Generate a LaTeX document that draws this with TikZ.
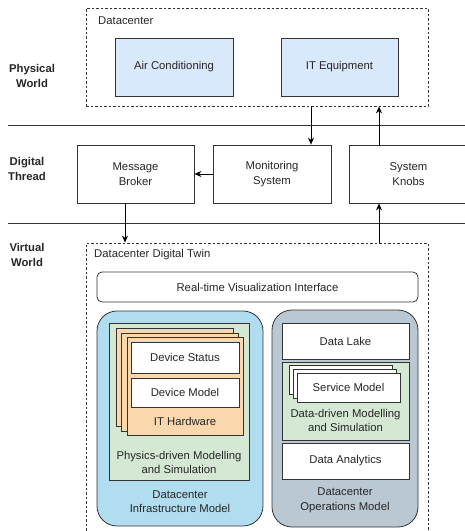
\documentclass[tikz,border=0pt]{standalone}
\usepackage{fontspec}
\setmainfont{Liberation Sans}
\usetikzlibrary{arrows.meta}
\definecolor{bluefill}{HTML}{DAE8FC}
\definecolor{infra}{HTML}{B1DDF0}
\definecolor{opsfill}{HTML}{BAC8D3}
\definecolor{greenfill}{HTML}{D5E8D4}
\definecolor{orangefill}{HTML}{FAD7AC}
\definecolor{edge}{HTML}{333333}
\begin{document}
\begin{tikzpicture}[x=1pt,y=-1pt,
  every node/.style={font=\fontsize{11.3}{14.5}\selectfont, align=center, inner sep=0pt, text=black!85},
  box/.style={draw=edge, line width=0.8pt, fill=white},
  bluebox/.style={box, fill=bluefill},
  dashbox/.style={draw=edge, line width=0.8pt, dash pattern=on 2.5pt off 2pt},
  rbox/.style={box, rounded corners=5pt},
  bigbox/.style={draw=edge, line width=0.8pt, rounded corners=20pt},
  greenbox/.style={box, fill=greenfill},
  card/.style={box, fill=orangefill},
  side/.style={font=\bfseries\fontsize{11.3}{14.5}\selectfont},
  sep/.style={draw=edge, line width=0.8pt},
  arr/.style={draw=black, line width=0.8pt, -{Stealth[length=7pt,width=6pt]}}
]
\useasboundingbox (0,0) rectangle (465,531);
% separators
\coordinate (l1a) at (8,125); \coordinate (l1b) at (470,125);
\coordinate (l2a) at (8,223); \coordinate (l2b) at (470,223);
\draw[sep] (l1a) -- (l1b);
\draw[sep] (l2a) -- (l2b);
% side labels
\node[side] (pw) at (32,76) {Physical\\World};
\node[side] (dth) at (27,169) {Digital\\Thread};
\node[side] (vw) at (27,255) {Virtual\\World};
% physical world
\node[dashbox, minimum width=342pt, minimum height=98pt] (dc) at (257,57) {};
\node[anchor=west] (dcl) at (98,21) {Datacenter};
\node[bluebox, minimum width=118pt, minimum height=58pt] (ac) at (174,67) {Air Conditioning};
\node[bluebox, minimum width=117pt, minimum height=58pt] (ite) at (339.5,67) {IT Equipment};
% digital thread
\node[box, minimum width=117pt, minimum height=58pt] (mb) at (135.5,174) {Message\\Broker};
\node[box, minimum width=118pt, minimum height=58pt] (mon) at (272,174) {Monitoring\\System};
\node[box, minimum width=119pt, minimum height=58pt] (kn) at (408.5,174) {System\\Knobs};
% virtual world
\node[dashbox, minimum width=342pt, minimum height=300pt] (dt) at (257,393) {};
\node[anchor=west] (dtl) at (94,255) {Datacenter Digital Twin};
\node[rbox, minimum width=321pt, minimum height=30pt] (rt) at (257.5,287) {Real-time Visualization Interface};
% infrastructure model
\node[bigbox, fill=infra, minimum width=166pt, minimum height=215pt] (inf) at (180,418.5) {};
\node[greenbox, minimum width=140pt, minimum height=157pt] (g1) at (179,401.5) {};
\node[card, minimum width=117pt, minimum height=98pt] (c1) at (174.5,377) {};
\node[card, minimum width=117pt, minimum height=98pt] (c2) at (179.5,382) {};
\node[card, minimum width=116pt, minimum height=98pt] (c3) at (185,386) {};
\node[box, minimum width=108pt, minimum height=31pt] (ds) at (185,357.5) {Device Status};
\node[box, minimum width=108pt, minimum height=29pt] (dm) at (185,392.5) {Device Model};
\node (ith) at (185,421) {IT Hardware};
\node (phys) at (179,462.5) {Physics-driven Modelling\\and Simulation};
\node (infl) at (180,501.5) {Datacenter\\Infrastructure Model};
% operations model
\node[bigbox, fill=opsfill, minimum width=146pt, minimum height=217pt] (ops) at (345,418.5) {};
\node[box, minimum width=127pt, minimum height=36pt] (dl) at (345.5,341) {Data Lake};
\node[greenbox, minimum width=127pt, minimum height=78pt] (g2) at (345.5,401) {};
\node[box, minimum width=103pt, minimum height=29pt] (s1) at (340.5,379.5) {};
\node[box, minimum width=103pt, minimum height=29pt] (s2) at (344.5,383.5) {};
\node[box, minimum width=103pt, minimum height=29pt] (s3) at (348.5,387.5) {Service Model};
\node (dd) at (345.5,420.5) {Data-driven Modelling\\and Simulation};
\node[box, minimum width=127pt, minimum height=36pt] (da) at (345.5,461) {Data Analytics};
\node (opsl) at (345,500.5) {Datacenter\\Operations Model};
% connectors
\coordinate (xa) at (311,0);
\coordinate (xb) at (379,0);
\coordinate (xc) at (125,0);
\draw[arr] (dc.south -| xa) -- (mon.north -| xa);
\draw[arr] (kn.north -| xb) -- (dc.south -| xb);
\draw[arr] (mon.west) -- (mb.east);
\draw[arr] (mb.south -| xc) -- (dt.north -| xc);
\draw[arr] (dt.north -| xb) -- (kn.south -| xb);
\end{tikzpicture}
\end{document}
